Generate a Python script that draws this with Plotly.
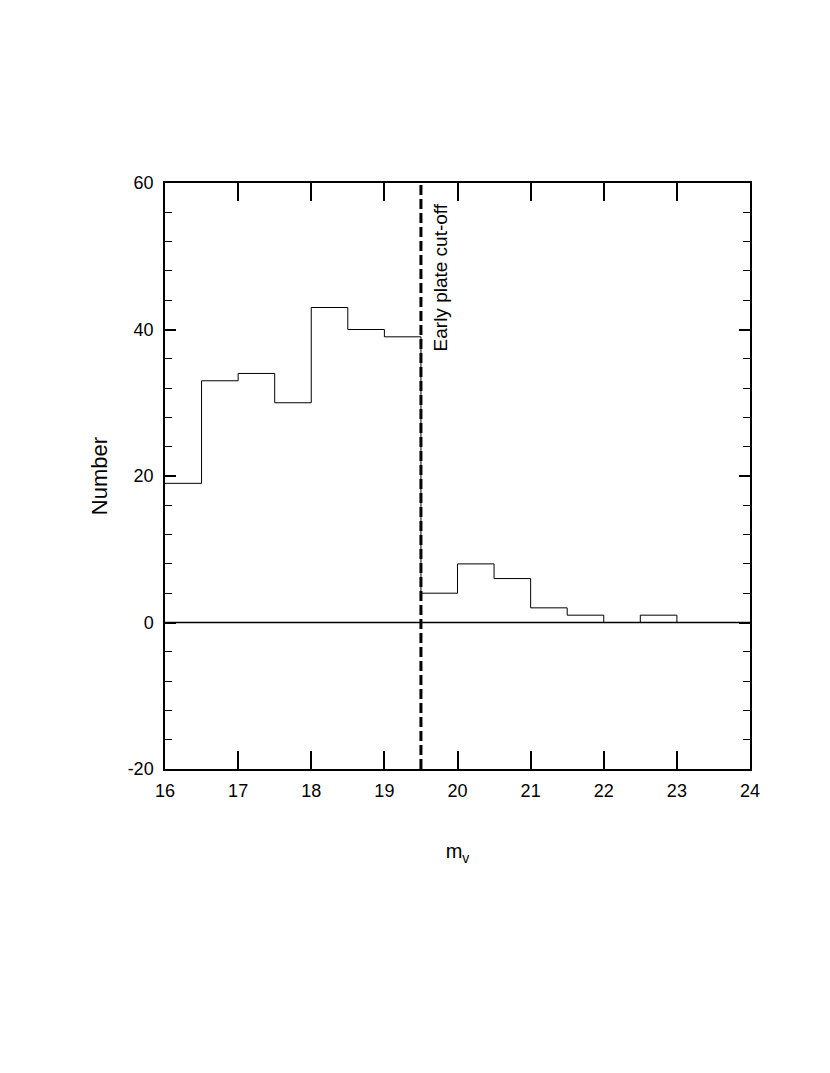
import plotly.graph_objects as go

bin_edges = [16, 16.5, 17, 17.5, 18, 18.5, 19, 19.5, 20, 20.5, 21, 21.5, 22, 22.5, 23, 23.5, 24]
counts = [19, 33, 34, 30, 43, 40, 39, 4, 8, 6, 2, 1, 0, 1, 0, 0]
cutoff = 19.5
x_ticks = [16, 17, 18, 19, 20, 21, 22, 23, 24]
y_ticks = [-20, 0, 20, 40, 60]
y_tick_labels = ["-20", "0", "20", "40", "60"]

FONT = "Liberation Sans, Arial"

fig = go.Figure()
fig.add_trace(go.Scatter(
    x=bin_edges, y=counts + [counts[-1]],
    mode="lines", line=dict(color="black", width=1, shape="hv"),
    showlegend=False, hoverinfo="skip"))

fig.add_shape(type="line", x0=16, x1=24, y0=0, y1=0, xref="x", yref="y",
              line=dict(color="black", width=1.5))
fig.add_shape(type="line", x0=cutoff, x1=cutoff, y0=-20, y1=60, xref="x", yref="y",
              line=dict(color="black", width=3, dash="10px,4px"))
fig.add_annotation(x=cutoff, y=60, xref="x", yref="y", text="Early plate cut-off",
                   textangle=-90, showarrow=False, xanchor="left", yanchor="top",
                   xshift=7, yshift=-18,
                   font=dict(family=FONT, size=19, color="black"))

axis_font = dict(family=FONT, size=18, color="black")
fig.update_xaxes(range=[16, 24], tickvals=x_ticks, ticks="inside", ticklen=18, tickwidth=1.5,
                 tickcolor="black", showline=True, linecolor="black", linewidth=1.5,
                 mirror="allticks", showgrid=False, zeroline=False, tickfont=axis_font,
                 ticklabelstandoff=5,
                 title=dict(text="m<sub>v</sub>", font=dict(family=FONT, size=20, color="black"), standoff=44))
fig.update_yaxes(range=[-20, 60], tickvals=y_ticks, ticktext=y_tick_labels, ticks="inside", ticklen=11, tickwidth=1.5,
                 tickcolor="black", showline=True, linecolor="black", linewidth=1.5,
                 mirror="allticks", showgrid=False, zeroline=False, tickfont=axis_font,
                 ticklabelstandoff=6,
                 minor=dict(dtick=4, tick0=0, ticks="inside", ticklen=7, tickwidth=1, tickcolor="black", showgrid=False),
                 title=dict(text="Number", font=dict(family=FONT, size=22, color="black"), standoff=14))

fig.update_layout(width=830, height=1073, margin=dict(l=157, r=88, t=175, b=312),
                  plot_bgcolor="white", paper_bgcolor="white")
fig.write_html("out.html")
